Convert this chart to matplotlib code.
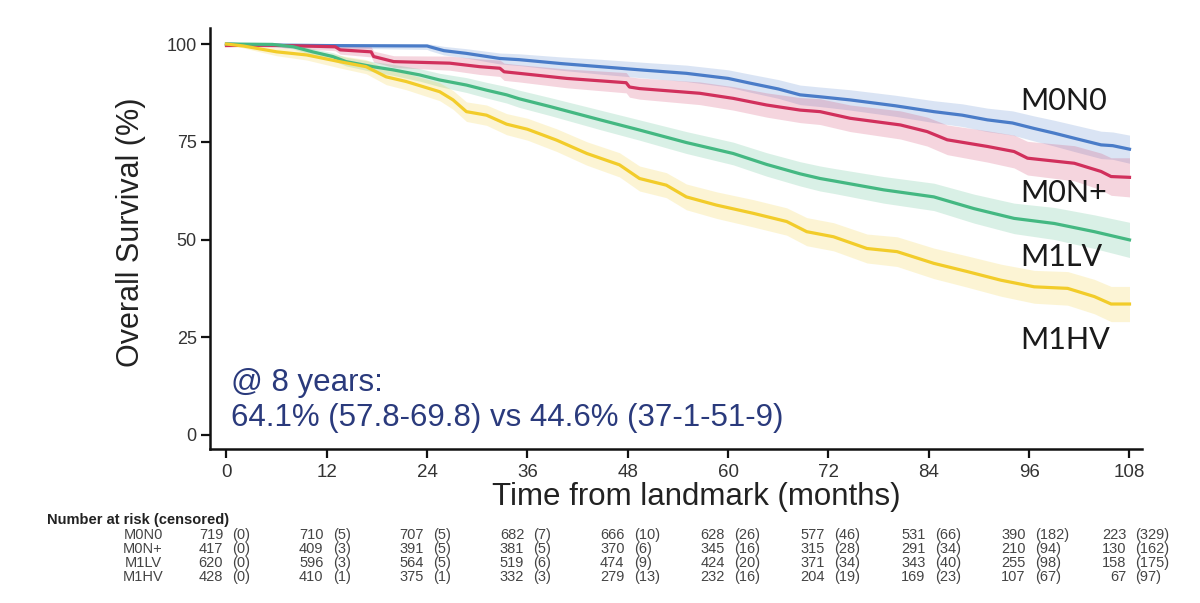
import matplotlib
matplotlib.use("Agg")
import matplotlib.pyplot as plt
import numpy as np

# ---------------- data ----------------
groups = ["M0N0", "M0N+", "M1LV", "M1HV"]

t_m0n0 = [0, 2, 12, 24, 24.3, 26, 28.7, 32.7, 35, 40, 44.7, 50, 55, 60, 62.6, 66, 68.6, 71,
          74.6, 80, 84.6, 88, 91, 94, 96.6, 99, 101.4, 104.6, 106, 108]
s_m0n0 = [100, 99.8, 99.6, 99.5, 99.3, 98.3, 97.6, 96.3, 96.0, 95.0, 94.2, 93.3, 92.5, 91.2, 90.0,
          88.5, 87.0, 86.5, 85.7, 84.2, 82.7, 81.8, 80.6, 79.8, 78.4, 77.2, 75.9, 74.2, 74.0, 73.1]
ci_m0n0 = [0, 0.3, 0.6, 0.9, 1.0, 1.1, 1.2, 1.4, 1.5, 1.7, 1.9, 2.0, 2.1, 2.2, 2.3,
           2.4, 2.5, 2.5, 2.6, 2.7, 2.8, 2.9, 3.0, 3.1, 3.2, 3.3, 3.4, 3.5, 3.5, 3.6]

t_m0n = [0, 4.8, 13, 13.6, 17.3, 17.6, 20, 26.7, 30.3, 32.7, 33.2, 35, 40.7, 47.8, 48.2, 49.4,
         56.6, 60.6, 64.6, 68.6, 71, 74.6, 80.6, 83.8, 86.2, 91, 94.2, 95.8, 101.4, 104.6, 105.8, 108]
s_m0n = [99.6, 99.7, 99.3, 98.5, 98.0, 96.8, 95.5, 95.1, 94.2, 93.8, 92.9, 92.5, 91.2, 90.1, 89.0, 88.6,
         87.4, 86.1, 84.4, 83.1, 82.7, 81.0, 79.3, 77.6, 75.5, 73.8, 72.5, 70.8, 69.5, 67.4, 66.1, 65.9]
ci_m0n = [0, 0.5, 1.0, 1.1, 1.3, 1.4, 1.5, 1.8, 2.0, 2.1, 2.2, 2.2, 2.4, 2.6, 2.6, 2.7,
          2.9, 3.0, 3.1, 3.2, 3.3, 3.4, 3.6, 3.7, 3.8, 4.0, 4.2, 4.3, 4.5, 4.7, 4.8, 5.0]

t_m1lv = [0, 5.5, 8, 10.3, 12.7, 14.3, 17.5, 19.9, 23.1, 25.5, 28.7, 31.1, 33.5, 35, 38.7, 44.7,
          49.4, 55, 60.6, 64.6, 68.6, 71, 72.6, 78.6, 84.6, 89.4, 94.2, 99, 103.8, 108]
s_m1lv = [100, 99.9, 99.3, 98.0, 96.8, 95.5, 94.2, 93.4, 92.1, 90.8, 89.5, 88.2, 87.0, 86.0, 84.0, 80.6,
          78.0, 74.8, 72.0, 69.2, 66.8, 65.6, 65.0, 62.7, 60.9, 57.9, 55.4, 54.1, 52.0, 49.9]
ci_m1lv = [0, 0.4, 0.6, 0.8, 1.0, 1.1, 1.3, 1.4, 1.6, 1.7, 1.9, 2.0, 2.1, 2.2, 2.3, 2.5,
           2.6, 2.8, 2.9, 3.0, 3.1, 3.2, 3.2, 3.4, 3.5, 3.7, 3.9, 4.1, 4.3, 4.5]

t_m1hv = [0, 2, 6, 9.6, 13.5, 16.7, 19.1, 21.5, 25.5, 27.1, 28.7, 31.1, 33.5, 36, 39.5, 43.1, 47,
          49.4, 52.6, 55, 58.6, 63, 67, 69.4, 72.6, 76.6, 80.2, 84.6, 88.6, 92.6, 96.6, 100.6, 103.8,
          105.8, 108]
s_m1hv = [100, 99.5, 98.0, 97.2, 95.5, 94.2, 91.6, 90.4, 87.8, 85.7, 82.7, 81.8, 79.5, 78.2, 75.4, 72.0,
          69.1, 65.6, 63.9, 60.9, 58.8, 56.7, 54.6, 52.0, 50.7, 47.7, 46.9, 43.9, 41.8, 39.6, 37.9, 37.5,
          35.4, 33.5, 33.5]
ci_m1hv = [0, 0.5, 1.0, 1.3, 1.6, 1.8, 2.0, 2.1, 2.3, 2.4, 2.5, 2.6, 2.7, 2.8, 2.9, 3.0, 3.1,
           3.2, 3.2, 3.3, 3.4, 3.5, 3.5, 3.6, 3.6, 3.7, 3.8, 3.9, 4.0, 4.1, 4.2, 4.3, 4.4, 4.5, 4.5]

x_ticks = [0, 12, 24, 36, 48, 60, 72, 84, 96, 108]
y_ticks = [0, 25, 50, 75, 100]

risk_m0n0 = [719, 710, 707, 682, 666, 628, 577, 531, 390, 223]
cens_m0n0 = [0, 5, 5, 7, 10, 26, 46, 66, 182, 329]
risk_m0n = [417, 409, 391, 381, 370, 345, 315, 291, 210, 130]
cens_m0n = [0, 3, 5, 5, 6, 16, 28, 34, 94, 162]
risk_m1lv = [620, 596, 564, 519, 474, 424, 371, 343, 255, 158]
cens_m1lv = [0, 3, 5, 6, 9, 20, 34, 40, 98, 175]
risk_m1hv = [428, 410, 375, 332, 279, 232, 204, 169, 107, 67]
cens_m1hv = [0, 1, 1, 3, 13, 16, 19, 23, 67, 97]

colors = ["#4a7cc8", "#d1305c", "#44b882", "#f2cc2a"]

series = [
    (t_m0n0, s_m0n0, ci_m0n0),
    (t_m0n, s_m0n, ci_m0n),
    (t_m1lv, s_m1lv, ci_m1lv),
    (t_m1hv, s_m1hv, ci_m1hv),
]
risk = [(risk_m0n0, cens_m0n0), (risk_m0n, cens_m0n), (risk_m1lv, cens_m1lv), (risk_m1hv, cens_m1hv)]

# ---------------- figure ----------------
plt.rcParams["font.family"] = ["Liberation Sans", "DejaVu Sans"]
fig = plt.figure(figsize=(12, 6.03), dpi=100)
ax = fig.add_axes([0.175, 0.2554, 0.9517 - 0.175, 0.9536 - 0.2554])

for (t, s, ci), c in zip(series, colors):
    t = np.array(t); s = np.array(s); ci = np.array(ci)
    ax.fill_between(t, np.minimum(s + ci, 100), s - ci, color=c, alpha=0.2, lw=0)
for (t, s, ci), c in zip(series, colors):
    ax.plot(t, s, color=c, lw=2.3, solid_joinstyle="round")

ax.set_xlim(-1.97, 109.5)
ax.set_ylim(-3.58, 104.1)
ax.set_xticks(x_ticks)
ax.set_yticks(y_ticks)
for sp in ["top", "right"]:
    ax.spines[sp].set_visible(False)
for sp in ["left", "bottom"]:
    ax.spines[sp].set_linewidth(1.8)
    ax.spines[sp].set_color("#111111")
ax.tick_params(axis="both", direction="out", length=6.5, width=1.6, color="#111111")
ax.tick_params(axis="y", labelsize=13, labelcolor="#333333", pad=3)
ax.tick_params(axis="x", labelsize=13.5, labelcolor="#333333", pad=4)
for lab in ax.get_xticklabels():
    lab.set_family(["Liberation Sans Narrow", "Liberation Sans"])

fig.text(131 / 1200, 1 - 232 / 603, "Overall Survival (%)", fontsize=22, color="#222222",
         rotation=90, ha="center", va="center")
fig.text(696 / 1200, 1 - 497 / 603, "Time from landmark (months)", fontsize=22.5,
         color="#222222", ha="center", va="center")

# group labels
label_y = [85.4, 61.9, 45.5, 24.3]
for g, yv in zip(groups, label_y):
    ax.text(94.9, yv, g, fontsize=22, family=["Lato", "DejaVu Sans"], color="#1a1a1a",
            ha="left", va="center")

# annotation
ax.text(0.5, 13.3, "@ 8 years:", fontsize=22.5, color="#2a3a7c", ha="left", va="center")
ax.text(0.5, 4.3, "64.1% (57.8-69.8) vs 44.6% (37-1-51-9)", fontsize=22.5, color="#2a3a7c",
        ha="left", va="center")

# number at risk table
fig.text(47 / 1200, 1 - 520 / 603, "Number at risk (censored)", fontsize=10.5,
         fontweight="bold", color="#222222", ha="left", va="center")
row_y = [535, 549, 563, 577]
trans = matplotlib.transforms.blended_transform_factory(ax.transData, fig.transFigure)
for g, (r, cz), yp in zip(groups, risk, row_y):
    yf = 1 - yp / 603
    fig.text(143 / 1200, yf, g, fontsize=10.5, color="#444444", ha="center", va="center")
    for m, n, cc in zip(x_ticks, r, cz):
        ax.text(m - 0.4, yf, f"{n}", transform=trans, fontsize=10.5, color="#444444",
                ha="right", va="center", clip_on=False)
        ax.text(m + 0.7, yf, f"({cc})", transform=trans, fontsize=10.5, color="#444444",
                ha="left", va="center", clip_on=False)

fig.savefig("out.png", dpi=100, facecolor="white")
